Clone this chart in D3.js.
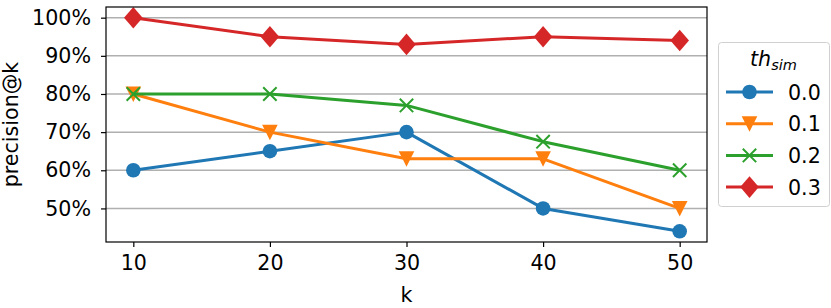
<!DOCTYPE html>
<html><head><meta charset="utf-8">
<script src="https://cdn.jsdelivr.net/npm/d3@7"></script>
<style>body{margin:0;background:#fff}svg{display:block}text{font-family:"DejaVu Sans",sans-serif;fill:#000}</style>
</head><body><svg id="c" width="831" height="308"></svg>
<script>
const kValues = [10, 20, 30, 40, 50];
const seriesNames = ["0.0", "0.1", "0.2", "0.3"];
const s00 = [60, 65, 70, 50, 44];
const s01 = [80, 70, 63, 63, 50];
const s02 = [80, 80, 77, 67.5, 60];
const s03 = [100, 95, 93, 95, 94];
const yTicks = [50, 60, 70, 80, 90, 100];
const colors = ["#1f77b4", "#ff7f0e", "#2ca02c", "#d62728"];
const markers = ["circle", "tri", "x", "diamond"];
const allSeries = [s00, s01, s02, s03];
const FS = 20.6;

const svg = d3.select("#c");
const L = 106, R = 707, T = 7, B = 242;
const x = d3.scaleLinear().domain([8, 52]).range([L, R]);
const y = d3.scaleLinear().domain([41.2, 102.8]).range([B, T]);

// grid
svg.append("g").selectAll("line").data(yTicks).join("line")
  .attr("x1", L).attr("x2", R).attr("y1", d => y(d)).attr("y2", d => y(d))
  .attr("stroke", "#b0b0b0").attr("stroke-width", 1.5);

function marker(g, type, cx, cy, col) {
  if (type === "circle") g.append("circle").attr("cx", cx).attr("cy", cy).attr("r", 7.3).attr("fill", col);
  else if (type === "tri") g.append("path").attr("d", `M${cx-7.8},${cy-7.5} L${cx+7.8},${cy-7.5} L${cx},${cy+8} Z`).attr("fill", col);
  else if (type === "x") g.append("path").attr("d", `M${cx-6.7},${cy-6.7} L${cx+6.7},${cy+6.7} M${cx-6.7},${cy+6.7} L${cx+6.7},${cy-6.7}`).attr("stroke", col).attr("stroke-width", 2);
  else g.append("path").attr("d", `M${cx},${cy-10.8} L${cx+9.3},${cy} L${cx},${cy+10.8} L${cx-9.3},${cy} Z`).attr("fill", col);
}

const line = d3.line().x((d, i) => x(kValues[i])).y(d => y(d));
allSeries.forEach((s, si) => {
  const g = svg.append("g");
  g.append("path").attr("d", line(s)).attr("fill", "none").attr("stroke", colors[si]).attr("stroke-width", 3).attr("stroke-linejoin", "round");
  s.forEach((v, i) => marker(g, markers[si], x(kValues[i]), y(v), colors[si]));
});

// axes
const xa = svg.append("g").attr("transform", `translate(0,${B})`)
  .call(d3.axisBottom(x).tickValues(kValues).tickSize(5).tickPadding(8).tickFormat(d3.format("d")));
const ya = svg.append("g").attr("transform", `translate(${L},0)`)
  .call(d3.axisLeft(y).tickValues(yTicks).tickSize(5).tickPadding(10).tickFormat(d => d + "%"));
[xa, ya].forEach(a => {
  a.attr("font-size", FS).attr("font-family", "DejaVu Sans");
  a.select(".domain").remove();
  a.selectAll("line").attr("stroke", "#000").attr("stroke-width", 1.2);
  a.selectAll("text").attr("font-size", FS).attr("fill", "#000");
});
svg.append("rect").attr("x", L).attr("y", T).attr("width", R - L).attr("height", B - T)
  .attr("fill", "none").attr("stroke", "#000").attr("stroke-width", 1.2);

svg.append("text").attr("x", x(30)).attr("y", 302).attr("text-anchor", "middle").attr("font-size", FS).text("k");
svg.append("text").attr("transform", `translate(18,${(T + B) / 2}) rotate(-90)`).attr("text-anchor", "middle").attr("font-size", FS).text("precision@k");

// legend
const lg = svg.append("g");
lg.append("rect").attr("x", 718.5).attr("y", 42.5).attr("width", 111).attr("height", 164).attr("rx", 3)
  .attr("fill", "#fff").attr("stroke", "#d0d0d0").attr("stroke-width", 1);
const tt = lg.append("text").attr("x", 750).attr("y", 66).attr("font-size", FS).attr("font-style", "italic");
tt.append("tspan").text("th");
tt.append("tspan").attr("font-size", 14.5).attr("dy", 4).text("sim");
seriesNames.forEach((n, i) => {
  const yy = 92 + i * 31.7;
  lg.append("line").attr("x1", 726).attr("x2", 773).attr("y1", yy).attr("y2", yy).attr("stroke", colors[i]).attr("stroke-width", 3);
  marker(lg, markers[i], 749.5, yy, colors[i]);
  lg.append("text").attr("x", 788).attr("y", yy + 7.5).attr("font-size", FS).text(n);
});
</script></body></html>
